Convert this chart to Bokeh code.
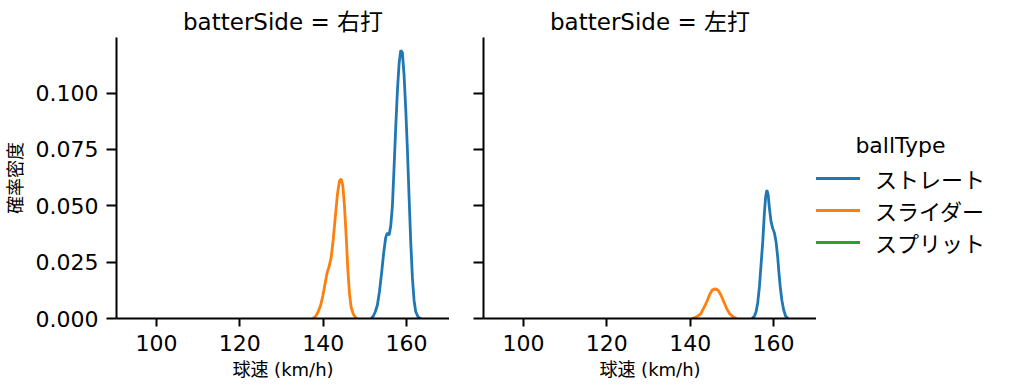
from bokeh.plotting import figure
from bokeh.layouts import row
from bokeh.models import (ColumnDataSource, Range1d, FixedTicker, PrintfTickFormatter,
                          CustomJSTickFormatter, Legend, LegendItem, Label)
from bokeh.embed import file_html
from bokeh.resources import INLINE

FONT = "'DejaVu Sans', 'Noto Sans CJK JP'"

ball_types = ["ストレート", "スライダー", "スプリット"]
colors = ["#1f77b4", "#ff7f0e", "#2ca02c"]
batter_sides = ["右打", "左打"]

# --- batterSide = 右打 ---
r_straight_speed = [151.5, 152.0, 152.5, 153.0, 153.5, 154.0, 154.5, 155.0, 155.4, 155.8, 156.2,
                    156.6, 157.0, 157.4, 157.8, 158.2, 158.6, 159.0, 159.4, 159.8, 160.2, 160.6,
                    161.0, 161.4, 161.8, 162.2, 162.8, 163.5]
r_straight_density = [0.0, 0.001, 0.003, 0.006, 0.012, 0.020, 0.029, 0.036, 0.038, 0.037, 0.041,
                      0.050, 0.067, 0.085, 0.101, 0.113, 0.119, 0.118, 0.108, 0.093, 0.075, 0.054,
                      0.034, 0.018, 0.008, 0.003, 0.0005, 0.0]
r_slider_speed = [137.5, 138.2, 138.8, 139.4, 139.9, 140.4, 140.9, 141.4, 141.9, 142.4, 142.9,
                  143.4, 143.9, 144.3, 144.7, 145.1, 145.5, 145.9, 146.3, 146.7, 147.2, 147.8, 148.3]
r_slider_density = [0.0, 0.001, 0.003, 0.006, 0.010, 0.015, 0.020, 0.023, 0.027, 0.035, 0.045,
                    0.055, 0.061, 0.062, 0.059, 0.050, 0.037, 0.022, 0.011, 0.005, 0.002, 0.0003, 0.0]

# --- batterSide = 左打 ---
l_straight_speed = [154.8, 155.4, 155.8, 156.2, 156.6, 157.0, 157.4, 157.8, 158.1, 158.4, 158.7,
                    159.0, 159.4, 159.8, 160.2, 160.6, 161.0, 161.3, 161.6, 162.0, 162.4, 162.9, 163.5]
l_straight_density = [0.0, 0.001, 0.003, 0.007, 0.014, 0.024, 0.034, 0.047, 0.054, 0.057, 0.055,
                      0.049, 0.043, 0.040, 0.038, 0.034, 0.027, 0.020, 0.014, 0.008, 0.004, 0.001, 0.0]
l_slider_speed = [140.5, 141.5, 142.5, 143.2, 144.0, 144.7, 145.3, 146.0, 146.7, 147.4, 148.1,
                  148.8, 149.5, 150.3, 151.2]
l_slider_density = [0.0, 0.0007, 0.002, 0.0045, 0.0075, 0.0108, 0.0126, 0.0132, 0.0125, 0.0103,
                    0.0072, 0.0042, 0.002, 0.0007, 0.0]

x_ticks = [100, 120, 140, 160]
y_ticks = [0.0, 0.025, 0.05, 0.075, 0.1]
x_label = "球速 (km/h)"
y_label = "確率密度"
legend_title = "ballType"

X_RANGE = (90.4, 170.3)
Y_RANGE = (0.0, 0.1247)

panel_curves = {
    "右打": [(r_straight_speed, r_straight_density, 0), (r_slider_speed, r_slider_density, 1)],
    "左打": [(l_straight_speed, l_straight_density, 0), (l_slider_speed, l_slider_density, 1)],
}

H = 383
FRAME_BOTTOM = 318  # page y of the plot frames' bottom edge


def make_panel(side, first):
    p = figure(width=449 if first else 367, height=H,
               min_border_left=116 if first else 34, min_border_right=0,
               min_border_top=37, min_border_bottom=65,
               x_range=Range1d(*X_RANGE), y_range=Range1d(*Y_RANGE),
               title="batterSide = " + side,
               output_backend="svg", toolbar_location=None)
    p.title.align = "center"
    p.title.text_font = FONT
    p.title.text_font_size = "23px"
    p.title.text_font_style = "normal"
    p.title.text_color = "black"
    p.title.standoff = 6
    p.outline_line_color = None
    p.grid.visible = False
    p.background_fill_color = "white"
    p.border_fill_color = "white"
    for ax in (p.xaxis[0], p.yaxis[0]):
        ax.axis_line_color = "black"
        ax.axis_line_width = 2
        ax.major_tick_line_color = "black"
        ax.major_tick_line_width = 2
        ax.major_tick_in = 0
        ax.minor_tick_line_color = None
        ax.major_label_text_font = FONT
        ax.major_label_text_font_size = "22px"
        ax.major_label_text_color = "black"
        ax.axis_label_text_font = FONT
        ax.axis_label_text_font_size = "18px"
        ax.axis_label_text_font_style = "normal"
        ax.axis_label_text_color = "black"
    p.xaxis.ticker = FixedTicker(ticks=x_ticks)
    p.xaxis.major_tick_out = 8
    p.xaxis.major_label_standoff = 8
    p.xaxis.axis_label = x_label
    p.xaxis.axis_label_standoff = 5
    p.yaxis.ticker = FixedTicker(ticks=y_ticks)
    p.yaxis.major_tick_out = 10
    if first:
        p.yaxis.formatter = PrintfTickFormatter(format="%.3f")
        p.yaxis.axis_label = y_label
        p.yaxis.major_label_standoff = 8
        p.yaxis.axis_label_standoff = 7
    else:
        p.yaxis.formatter = CustomJSTickFormatter(code="return ''")
        p.yaxis.major_label_standoff = 0
    for xs, ys, ci in panel_curves[side]:
        src = ColumnDataSource(dict(x=xs, y=ys))
        p.line("x", "y", source=src, line_color=colors[ci], line_width=2.8)
    return p


p1 = make_panel(batter_sides[0], True)
p2 = make_panel(batter_sides[1], False)

# legend panel (its frame is aligned with the panels' frames: page y 37..318)
p3 = figure(width=186, height=H, min_border=0, x_range=Range1d(0, 1), y_range=Range1d(0, 1),
            x_axis_type=None, y_axis_type=None,
            output_backend="svg", toolbar_location=None)
p3.outline_line_color = None
p3.grid.visible = False
nan = float("nan")
items = []
for name, col in zip(ball_types, colors):
    r = p3.line(x=[nan, nan], y=[nan, nan], line_color=col, line_width=2.8)
    items.append(LegendItem(label=name, renderers=[r]))
legend = Legend(items=items, location=(-4, FRAME_BOTTOM - 258), glyph_width=48, glyph_height=32,
                label_height=32, label_standoff=15, spacing=0, padding=0, margin=0,
                border_line_color=None, background_fill_alpha=0,
                label_text_font=FONT, label_text_font_size="22px", label_text_color="black")
p3.add_layout(legend)
p3.add_layout(Label(x=84, y=FRAME_BOTTOM - 145, x_units="screen", y_units="screen",
                    text=legend_title, text_font=FONT, text_font_size="22px",
                    text_align="center", text_baseline="middle", text_color="black"))

layout = row(p1, p2, p3)
open("out.html", "w").write(file_html(layout, INLINE))
